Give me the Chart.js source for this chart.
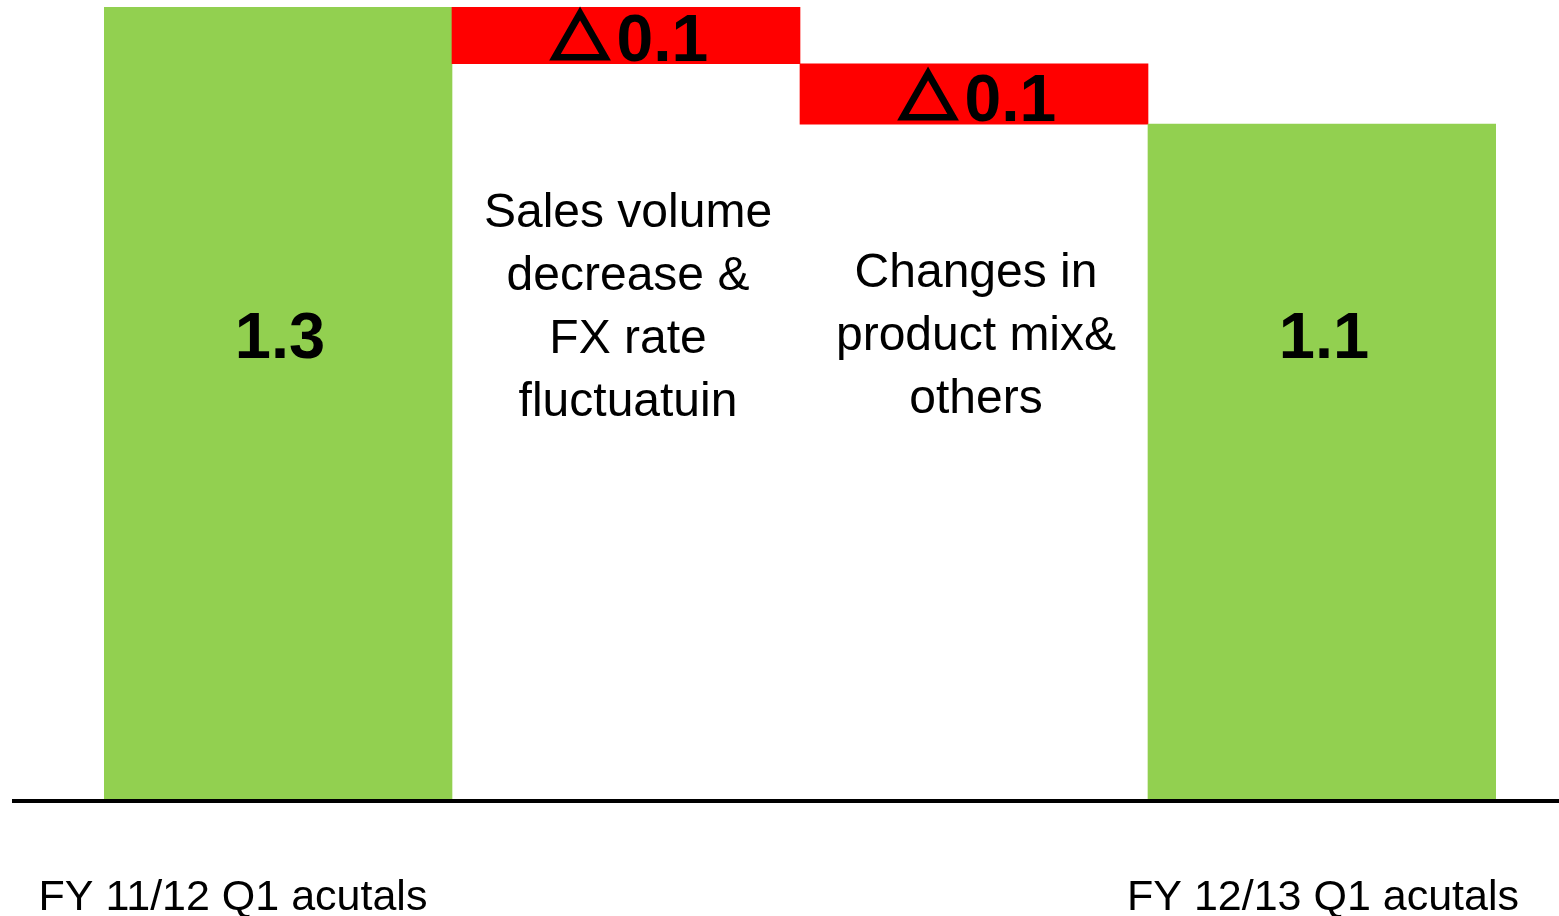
<!DOCTYPE html>
<html>
<head>
<meta charset="utf-8">
<script src="https://cdn.jsdelivr.net/npm/chart.js@4"></script>
<style>
  html, body { margin: 0; padding: 0; background: #fff; }
  #wrap { width: 1559px; height: 916px; }
</style>
</head>
<body>
<div id="wrap"><canvas id="waterfall" width="1559" height="916"></canvas></div>
<script>
const categories = ['FY 11/12 Q1 acutals', 'Sales volume decrease & FX rate fluctuatuin', 'Changes in product mix& others', 'FY 12/13 Q1 acutals'];
const barLow = [0, 1.207, 1.108, 0];
const barHigh = [1.3, 1.3, 1.207, 1.108];
const valueLabels = ['1.3', '0.1', '0.1', '1.1'];
const barColors = ['#92D050', '#FF0000', '#FF0000', '#92D050'];
const descLines = [[], ['Sales volume', 'decrease &', 'FX rate', 'fluctuatuin'], ['Changes in', 'product mix&', 'others'], []];
const axisLabels = ['FY 11/12 Q1 acutals', '', '', 'FY 12/13 Q1 acutals'];

const FONT = '"Liberation Sans", Arial, "DejaVu Sans", sans-serif';
const TRI = '△';

// draws baseline, value labels, step descriptions and category names
const waterfallText = {
  id: 'waterfallText',
  afterDatasetsDraw(chart) {
    const { ctx, scales: { x, y } } = chart;
    const meta = chart.getDatasetMeta(0);
    ctx.save();

    // base line across the whole width
    const y0 = y.getPixelForValue(0);
    ctx.strokeStyle = '#000';
    ctx.lineWidth = 4;
    ctx.beginPath();
    ctx.moveTo(12, y0 + 1);
    ctx.lineTo(chart.width, y0 + 1);
    ctx.stroke();

    ctx.fillStyle = '#000';
    ctx.textBaseline = 'alphabetic';

    meta.data.forEach((bar, i) => {
      const cx = bar.x;
      if (barLow[i] === 0) {
        ctx.textAlign = 'center';
        ctx.font = 'bold 65px ' + FONT;
        ctx.fillText(valueLabels[i], cx + 2, 358);
      } else {
        // drop value: triangle mark + amount
        const base = y.getPixelForValue(barLow[i]) - 3;
        const sx = 1.15;
        ctx.textAlign = 'left';
        ctx.font = 'bold 66px ' + FONT;
        const numW = ctx.measureText(valueLabels[i]).width;
        ctx.font = '64px "DejaVu Sans", sans-serif';
        const triW = ctx.measureText(TRI).width * sx;
        const left = cx + 4 - (triW + 8 + numW) / 2;
        ctx.save();
        ctx.translate(left, base - 10);
        ctx.scale(sx, 1);
        ctx.lineWidth = 3;
        ctx.fillText(TRI, 0, 0);
        ctx.strokeText(TRI, 0, 0);
        ctx.restore();
        ctx.font = 'bold 66px ' + FONT;
        ctx.fillText(valueLabels[i], left + triW + 8, base);
      }
    });

    // descriptions under the drop bars
    ctx.textAlign = 'center';
    ctx.textBaseline = 'middle';
    ctx.font = '48px ' + FONT;
    const startY = [0, 214, 274, 0];
    descLines.forEach((lines, i) => {
      const cx = meta.data[i].x;
      lines.forEach((t, k) => ctx.fillText(t, cx + 2, startY[i] + k * 63));
    });

    // category names below the axis
    ctx.font = '43px ' + FONT;
    const shift = [-45, 0, 0, 1];
    axisLabels.forEach((t, i) => {
      if (t) ctx.fillText(t, x.getPixelForValue(i) + shift[i], 898);
    });
    ctx.restore();
  }
};

new Chart(document.getElementById('waterfall'), {
  type: 'bar',
  data: {
    labels: categories,
    datasets: [{
      data: barLow.map((lo, i) => [lo, barHigh[i]]),
      backgroundColor: barColors,
      borderWidth: 0,
      barPercentage: 1,
      categoryPercentage: 1
    }]
  },
  options: {
    responsive: false,
    animation: false,
    layout: { padding: { left: 104, right: 63, top: 7, bottom: 116 } },
    plugins: {
      legend: { display: false },
      tooltip: { enabled: false }
    },
    scales: {
      x: { display: false },
      y: { display: false, min: 0, max: 1.3 }
    }
  },
  plugins: [waterfallText]
});
</script>
</body>
</html>
